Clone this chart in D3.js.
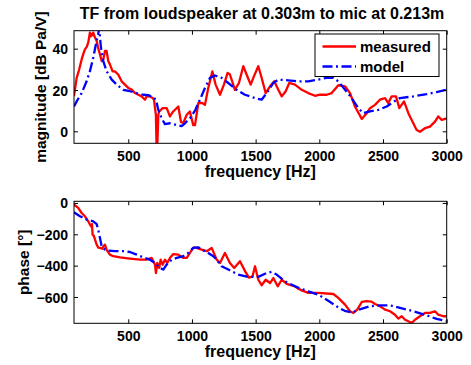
<!DOCTYPE html>
<html>
<head>
<meta charset="utf-8">
<script src="https://cdn.jsdelivr.net/npm/d3@7"></script>
<style>
  html, body { margin: 0; padding: 0; background: #fff; }
  text { font-family: "Liberation Sans", Arial, Helvetica, sans-serif; font-weight: bold; }
</style>
</head>
<body>
<svg id="chart" width="471" height="365"></svg>
<script>
// ---------- DATA ----------
const title = "TF from loudspeaker at 0.303m to mic at 0.213m";
const xTicks = [500, 1000, 1500, 2000, 2500, 3000];
const magTicks = [0, 20, 40];
const phaseTicks = [0, -200, -400, -600];
const seriesNames = ["measured", "model"];

// measured magnitude [dB Pa/V]
const magMeasFreq = [74, 95, 115, 134, 150, 160, 175, 186, 199, 206, 213, 220, 225, 239, 252, 265, 278, 291, 304, 317, 330, 343, 356, 377, 395, 421, 448, 474, 500, 527, 553, 579, 605, 631, 644, 670, 692, 702, 710, 717, 722, 728, 736, 743, 770, 802, 827, 853, 893, 914, 932, 959, 984, 1010, 1024, 1050, 1081, 1102, 1128, 1160, 1186, 1220, 1251, 1280, 1298, 1316, 1337, 1369, 1403, 1429, 1461, 1487, 1521, 1547, 1579, 1613, 1646, 1678, 1705, 1736, 1764, 1809, 1862, 1913, 1966, 2005, 2058, 2097, 2149, 2202, 2241, 2280, 2333, 2372, 2398, 2437, 2476, 2516, 2541, 2568, 2602, 2628, 2665, 2699, 2725, 2764, 2790, 2829, 2869, 2908, 2934, 2961, 3000];
const magMeas = [17, 25.9, 30, 34.8, 38, 39.7, 41, 43, 47.8, 46, 47, 46.5, 47.8, 45.4, 43.7, 40, 37.2, 34, 34.8, 38.9, 38.9, 34, 32.4, 29, 29, 27.5, 24.2, 22.6, 21, 20.2, 18.5, 17.7, 16.9, 15.3, 16.9, 16.9, 16.1, 15.3, 11.2, 8, -7, -7, 8, 9.6, 11.2, 11.2, 7.2, 9.6, 12, 4.5, 4, 8, 9.6, 3, 3, 13.7, 13.7, 12.8, 21, 29, 22.6, 17.7, 22.6, 28.3, 27.5, 24.2, 20.1, 23.4, 31.5, 27.5, 22.6, 26.7, 31.5, 25.9, 18.5, 21.8, 24.2, 20.1, 16.9, 19.4, 23.4, 22.6, 20.1, 18.5, 17.2, 17.7, 17.7, 18.5, 22.3, 21.8, 18.5, 12, 6, 8.8, 11.2, 12.8, 15.3, 16.1, 13.7, 16.9, 16.9, 11.2, 14.5, 8.8, 5.5, 0.6, -0.2, 1.5, 2.3, 4.7, 7.2, 5.5, 6.3];

// model magnitude [dB Pa/V]
const magModelFreq = [74, 95, 134, 173, 199, 225, 246, 264, 272, 283, 291, 304, 330, 370, 409, 461, 513, 566, 618, 657, 696, 717, 736, 762, 788, 827, 880, 919, 945, 984, 1024, 1050, 1063, 1102, 1142, 1181, 1233, 1285, 1351, 1416, 1495, 1547, 1587, 1639, 1678, 1756, 1835, 1913, 1992, 2058, 2110, 2149, 2202, 2254, 2306, 2345, 2398, 2463, 2529, 2568, 2633, 2738, 2843, 2921, 3000];
const magModel = [12, 14.5, 18.5, 24.2, 29.1, 35.6, 42.1, 47, 50, 42.1, 38, 34, 29.1, 25, 22.6, 20.1, 19.4, 18.5, 17.7, 17.5, 16.5, 15.3, 10.4, 6.3, 3.5, 3.9, 3, 2.5, 3.9, 6.3, 10, 13.7, 15.3, 21, 25.9, 27, 25.9, 23.4, 20.1, 17.7, 16.1, 15.3, 18.5, 23.4, 25, 24.7, 24.2, 24.2, 25, 25.9, 25.9, 24.2, 20.1, 16.1, 11.2, 8.8, 9.6, 10.4, 12, 13.7, 16.1, 16.9, 18, 19, 20.1];

// measured phase [deg]
const phMeasFreq = [74, 82, 107, 134, 160, 186, 199, 210, 215, 220, 230, 239, 252, 265, 278, 295, 304, 317, 330, 356, 382, 435, 513, 592, 644, 684, 710, 717, 728, 743, 754, 770, 788, 806, 827, 853, 893, 932, 959, 984, 1010, 1024, 1076, 1116, 1155, 1194, 1220, 1259, 1298, 1332, 1377, 1420, 1448, 1475, 1495, 1521, 1547, 1579, 1613, 1639, 1673, 1705, 1744, 1776, 1809, 1830, 1862, 1913, 1992, 2110, 2149, 2202, 2241, 2267, 2298, 2333, 2372, 2410, 2437, 2476, 2516, 2555, 2594, 2620, 2647, 2673, 2699, 2725, 2751, 2790, 2829, 2869, 2908, 2934, 2974, 3000];
const phMeas = [-10, -15, -32, -64, -85, -117, -138, -150, -135, -202, -210, -234, -266, -285, -287, -292, -278, -266, -300, -330, -340, -347, -355, -362, -362, -351, -394, -447, -383, -415, -362, -394, -362, -383, -351, -326, -330, -351, -351, -319, -287, -283, -298, -308, -287, -362, -383, -319, -383, -415, -372, -440, -477, -470, -404, -490, -525, -490, -511, -479, -532, -490, -517, -525, -532, -545, -558, -574, -574, -581, -606, -649, -691, -702, -681, -632, -627, -630, -645, -659, -681, -691, -713, -738, -723, -745, -755, -766, -745, -723, -702, -702, -691, -713, -723, -723];

// model phase [deg]
const phModelFreq = [74, 82, 121, 173, 225, 252, 264, 278, 291, 317, 343, 395, 461, 513, 566, 618, 670, 710, 749, 775, 801, 841, 880, 932, 971, 1010, 1050, 1076, 1128, 1168, 1194, 1233, 1285, 1364, 1442, 1521, 1587, 1626, 1665, 1730, 1809, 1913, 1992, 2076, 2155, 2207, 2259, 2312, 2398, 2476, 2555, 2633, 2738, 2843, 2921, 3000];
const phModel = [-60, -64, -85, -106, -117, -135, -170, -223, -276, -298, -304, -308, -308, -313, -330, -347, -362, -383, -415, -425, -394, -362, -351, -340, -319, -287, -283, -298, -319, -340, -362, -404, -425, -457, -472, -472, -447, -440, -457, -500, -532, -564, -585, -627, -670, -691, -698, -681, -659, -653, -653, -670, -691, -717, -740, -755];

// ---------- LAYOUT ----------
const svg = d3.select("#chart");
const left = 74, right = 446.7;
const top1 = 30.7, bot1 = 143.3;
const top2 = 201.3, bot2 = 323.3;
const tickFont = 14, labelFont = 16, ylabelFont = 15.5, titleFont = 16, legendFont = 15;

const x = d3.scaleLinear().domain([74, 3000]).range([left, right]);
const yMag = d3.scaleLinear().domain([-5.8, 48.7]).range([bot1, top1]);
const yPh = d3.scaleLinear().domain([-768, 10.5]).range([bot2, top2]);

const fmt = d => (d < 0 ? "\u2212" + Math.abs(d) : String(d));

function drawPanel(id, y, yTicks, top, bot, series, ylabel, ylabelX) {
  const g = svg.append("g");
  g.append("rect").attr("x", left).attr("y", top).attr("width", right - left).attr("height", bot - top).attr("fill", "#fff");

  g.append("clipPath").attr("id", "clip" + id).append("rect")
    .attr("x", left).attr("y", top).attr("width", right - left).attr("height", bot - top);

  const plot = g.append("g").attr("clip-path", `url(#clip${id})`);
  series.forEach(s => {
    const pts = s.f.map((f, i) => [f, s.v[i]]);
    plot.append("path")
      .attr("d", d3.line().x(d => x(d[0])).y(d => y(d[1]))(pts))
      .attr("fill", "none")
      .attr("stroke", s.color)
      .attr("stroke-width", 2.3)
      .attr("stroke-linejoin", "round")
      .attr("stroke-dasharray", s.dash || null);
  });

  // axes with inward ticks on all four sides
  const tl = 4;
  const axB = d3.axisBottom(x).tickValues(xTicks).tickSize(-tl).tickPadding(8).tickFormat(d3.format("d"));
  const axT = d3.axisTop(x).tickValues(xTicks).tickSize(-tl).tickFormat("");
  const axL = d3.axisLeft(y).tickValues(yTicks).tickSize(-tl).tickPadding(6).tickFormat(fmt);
  const axR = d3.axisRight(y).tickValues(yTicks).tickSize(-tl).tickFormat("");

  const gb = g.append("g").attr("transform", `translate(0,${bot})`).call(axB);
  const gt = g.append("g").attr("transform", `translate(0,${top})`).call(axT);
  const gl = g.append("g").attr("transform", `translate(${left},0)`).call(axL);
  const gr = g.append("g").attr("transform", `translate(${right},0)`).call(axR);
  [gb, gt, gl, gr].forEach(a => {
    a.select(".domain").remove();
    a.selectAll("line").attr("stroke", "#000").attr("stroke-width", 1);
    a.selectAll("text").attr("font-size", tickFont).attr("fill", "#000")
      .style("font-family", '"Liberation Sans", Arial, sans-serif').style("font-weight", "bold");
  });
  gb.selectAll("text").attr("dy", "0.71em");
  gl.selectAll("text").attr("dy", "0.36em");

  g.append("rect").attr("x", left).attr("y", top).attr("width", right - left).attr("height", bot - top)
    .attr("fill", "none").attr("stroke", "#000").attr("stroke-width", 1);

  g.append("text").attr("x", (left + right) / 2).attr("y", bot + 33.5)
    .attr("text-anchor", "middle").attr("font-size", labelFont).text("frequency [Hz]");

  g.append("text")
    .attr("transform", `translate(${ylabelX},${(top + bot) / 2}) rotate(-90)`)
    .attr("text-anchor", "middle").attr("font-size", ylabelFont).text(ylabel);
  return g;
}

const red = "#ff0000", blue = "#0000ff", dashDot = "10,3.5,2,3.5";

drawPanel(1, yMag, magTicks, top1, bot1, [
  { f: magMeasFreq, v: magMeas, color: red },
  { f: magModelFreq, v: magModel, color: blue, dash: dashDot }
], "magnitude [dB Pa/V]", 46);

drawPanel(2, yPh, phaseTicks, top2, bot2, [
  { f: phMeasFreq, v: phMeas, color: red },
  { f: phModelFreq, v: phModel, color: blue, dash: dashDot }
], "phase [\u00b0]", 29);

// title
svg.append("text").attr("x", 262).attr("y", 18.5)
  .attr("text-anchor", "middle").attr("font-size", titleFont).text(title);

// legend
const lg = svg.append("g");
lg.append("rect").attr("x", 315).attr("y", 34).attr("width", 124).attr("height", 42.5)
  .attr("fill", "#fff").attr("stroke", "#000").attr("stroke-width", 1);
const legendItems = [
  { name: seriesNames[0], color: red, dash: null, y: 46.5 },
  { name: seriesNames[1], color: blue, dash: dashDot, y: 66.5 }
];
legendItems.forEach(it => {
  lg.append("line").attr("x1", 322.5).attr("x2", 356).attr("y1", it.y).attr("y2", it.y)
    .attr("stroke", it.color).attr("stroke-width", 2.3).attr("stroke-dasharray", it.dash);
  lg.append("text").attr("x", 360).attr("y", it.y).attr("dy", "0.36em")
    .attr("font-size", legendFont).text(it.name);
});
</script>
</body>
</html>
